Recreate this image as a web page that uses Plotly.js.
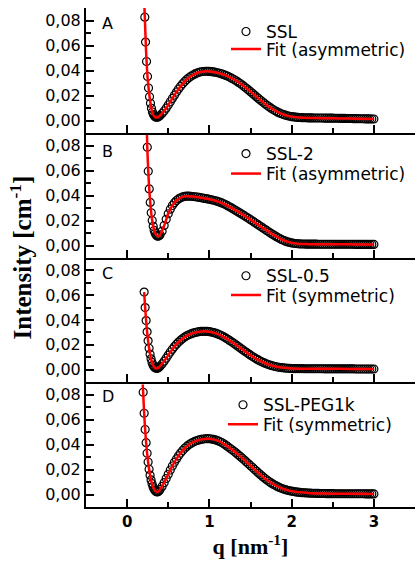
<!DOCTYPE html>
<html><head><meta charset="utf-8">
<script src="https://cdn.plot.ly/plotly-3.0.1.min.js"></script>
<style>html,body{margin:0;padding:0;background:#fff}#chart{width:416px;height:563px}</style>
</head><body><div id="chart"></div>
<script>
// Shared q grid (nm^-1) for the part of each curve after the first minimum
const qTail = [0.400,0.425,0.450,0.475,0.500,0.525,0.550,0.575,0.600,0.625,0.650,0.675,0.700,0.725,0.750,0.775,0.800,0.825,0.850,0.875,0.900,0.925,0.950,0.975,1.000,
1.025,1.050,1.075,1.100,1.125,1.150,1.175,1.200,1.225,1.250,1.275,1.300,1.325,1.350,1.375,1.400,1.425,1.450,1.475,1.500,
1.525,1.550,1.575,1.600,1.625,1.650,1.675,1.700,1.725,1.750,1.775,1.800,1.825,1.850,1.875,1.900,1.925,1.950,1.975,2.000,
2.025,2.050,2.075,2.100,2.125,2.150,2.175,2.200,2.225,2.250,2.275,2.300,2.325,2.350,2.375,2.400,2.425,2.450,2.475,2.500,
2.525,2.550,2.575,2.600,2.625,2.650,2.675,2.700,2.725,2.750,2.775,2.800,2.825,2.850,2.875,2.900,2.925,2.950,2.975,3.000];

// A: SSL
const qHeadA = [0.215,0.224,0.236,0.248,0.260,0.272,0.284,0.296,0.308,0.320,0.332,0.344,0.356,0.368,0.380,0.392];
const iHeadA = [0.0827,0.0627,0.0472,0.0352,0.0260,0.0190,0.0138,0.0098,0.0068,0.0048,0.0036,0.0029,0.0026,0.0027,0.0031,0.0036];
const iTailA = [0.0040,0.0056,0.0076,0.0099,0.0124,0.0150,0.0177,0.0203,0.0228,0.0252,0.0274,0.0294,0.0312,0.0328,0.0342,0.0354,0.0364,0.0373,0.0380,0.0386,0.0390,0.0392,0.0394,0.0394,0.0393,
0.0391,0.0389,0.0386,0.0382,0.0378,0.0373,0.0367,0.0361,0.0354,0.0346,0.0337,0.0328,0.0318,0.0307,0.0296,0.0284,0.0271,0.0258,0.0245,0.0231,
0.0217,0.0203,0.0189,0.0175,0.0161,0.0148,0.0135,0.0122,0.0110,0.0099,0.0088,0.0078,0.0069,0.0061,0.0054,0.0048,0.0043,0.0038,0.0034,0.0031,
0.0029,0.0027,0.0025,0.0024,0.0023,0.0022,0.0022,0.0021,0.0021,0.0021,0.0020,0.0020,0.0020,0.0020,0.0020,0.0019,0.0019,0.0019,0.0019,0.0019,
0.0018,0.0018,0.0018,0.0017,0.0017,0.0017,0.0016,0.0016,0.0016,0.0015,0.0015,0.0015,0.0014,0.0014,0.0014,0.0013,0.0013,0.0013,0.0012,0.0012];
const qFitA = [0.200,0.215,0.230,0.250,0.275,0.300,0.325,0.350,0.375,0.400,0.450,0.500,0.600,0.700,0.800,0.900,1.000,1.100,1.200,1.300,1.400,1.500,1.600,1.700,1.800,1.900,2.000,2.100,2.200,2.400,2.600,2.800,3.000];
const iFitA = [0.1100,0.0830,0.0560,0.0335,0.0180,0.0080,0.0037,0.0024,0.0027,0.0040,0.0076,0.0124,0.0228,0.0312,0.0364,0.0390,0.0393,0.0382,0.0361,0.0328,0.0284,0.0231,0.0175,0.0122,0.0078,0.0048,0.0031,0.0024,0.0021,0.0019,0.0017,0.0015,0.0012];

// B: SSL-2
const qHeadB = [0.245,0.257,0.269,0.281,0.293,0.305,0.317,0.329,0.341,0.353,0.365,0.377,0.389];
const iHeadB = [0.0786,0.0594,0.0453,0.0345,0.0262,0.0200,0.0154,0.0121,0.0098,0.0084,0.0077,0.0075,0.0078];
const iTailB = [0.0086,0.0115,0.0160,0.0210,0.0254,0.0291,0.0320,0.0343,0.0360,0.0373,0.0382,0.0389,0.0393,0.0395,0.0395,0.0394,0.0392,0.0390,0.0388,0.0385,0.0382,0.0379,0.0376,0.0373,0.0370,
0.0366,0.0362,0.0358,0.0353,0.0347,0.0341,0.0334,0.0326,0.0317,0.0308,0.0299,0.0289,0.0279,0.0269,0.0259,0.0249,0.0239,0.0228,0.0218,0.0207,
0.0196,0.0185,0.0174,0.0163,0.0152,0.0141,0.0130,0.0119,0.0108,0.0097,0.0087,0.0077,0.0067,0.0058,0.0049,0.0042,0.0035,0.0029,0.0025,0.0021,
0.0018,0.0016,0.0014,0.0013,0.0012,0.0012,0.0011,0.0011,0.0011,0.0011,0.0011,0.0011,0.0010,0.0010,0.0010,0.0010,0.0010,0.0010,0.0010,0.0010,
0.0010,0.0010,0.0010,0.0010,0.0010,0.0010,0.0010,0.0010,0.0010,0.0010,0.0009,0.0009,0.0009,0.0009,0.0009,0.0009,0.0009,0.0009,0.0009,0.0009];
const qFitB = [0.235,0.245,0.257,0.269,0.281,0.293,0.305,0.320,0.340,0.360,0.380,0.400,0.450,0.500,0.550,0.600,0.650,0.700,0.750,0.800,0.900,1.000,1.100,1.200,1.300,1.400,1.500,1.600,1.700,1.800,1.900,2.000,2.100,2.200,2.400,2.600,2.800,3.000];
const iFitB = [0.1050,0.0786,0.0594,0.0453,0.0345,0.0262,0.0200,0.0145,0.0100,0.0080,0.0074,0.0084,0.0158,0.0254,0.0320,0.0360,0.0382,0.0393,0.0395,0.0392,0.0382,0.0370,0.0353,0.0326,0.0289,0.0249,0.0207,0.0163,0.0119,0.0077,0.0042,0.0021,0.0013,0.0011,0.0010,0.0010,0.0009,0.0009];

// C: SSL-0.5
const qHeadC = [0.207,0.219,0.231,0.243,0.255,0.267,0.279,0.291,0.303,0.315,0.327,0.339,0.351,0.363,0.375,0.387];
const iHeadC = [0.0625,0.0500,0.0395,0.0305,0.0232,0.0172,0.0124,0.0087,0.0058,0.0037,0.0023,0.0015,0.0011,0.0010,0.0012,0.0018];
const iTailC = [0.0028,0.0046,0.0068,0.0092,0.0117,0.0142,0.0165,0.0186,0.0205,0.0222,0.0237,0.0250,0.0262,0.0272,0.0281,0.0288,0.0294,0.0299,0.0303,0.0306,0.0308,0.0309,0.0309,0.0308,0.0306,
0.0303,0.0299,0.0294,0.0288,0.0281,0.0273,0.0264,0.0254,0.0244,0.0233,0.0222,0.0211,0.0199,0.0187,0.0175,0.0163,0.0151,0.0139,0.0127,0.0116,
0.0105,0.0095,0.0085,0.0076,0.0067,0.0059,0.0052,0.0045,0.0039,0.0034,0.0029,0.0025,0.0021,0.0018,0.0016,0.0014,0.0012,0.0011,0.0010,0.0009,
0.0008,0.0008,0.0008,0.0008,0.0008,0.0007,0.0007,0.0007,0.0007,0.0007,0.0007,0.0007,0.0007,0.0007,0.0007,0.0006,0.0006,0.0006,0.0006,0.0006,
0.0006,0.0006,0.0006,0.0006,0.0006,0.0006,0.0006,0.0006,0.0006,0.0006,0.0005,0.0005,0.0005,0.0005,0.0005,0.0005,0.0005,0.0005,0.0005,0.0005];
const qFitC = [0.207,0.219,0.231,0.243,0.255,0.270,0.285,0.300,0.320,0.340,0.360,0.380,0.400,0.450,0.500,0.550,0.600,0.700,0.800,0.900,1.000,1.100,1.200,1.300,1.400,1.500,1.600,1.700,1.800,1.900,2.000,2.200,2.400,2.600,2.800,3.000];
const iFitC = [0.0625,0.0500,0.0395,0.0305,0.0232,0.0160,0.0105,0.0065,0.0030,0.0014,0.0009,0.0013,0.0028,0.0068,0.0117,0.0165,0.0205,0.0262,0.0294,0.0308,0.0306,0.0288,0.0254,0.0211,0.0163,0.0116,0.0076,0.0045,0.0025,0.0014,0.0009,0.0007,0.0006,0.0006,0.0005,0.0005];

// D: SSL-PEG1k
const qHeadD = [0.195,0.207,0.219,0.231,0.243,0.255,0.267,0.279,0.291,0.303,0.315,0.327,0.339,0.351,0.363,0.375,0.387];
const iHeadD = [0.0818,0.0650,0.0520,0.0415,0.0330,0.0260,0.0202,0.0155,0.0117,0.0087,0.0063,0.0045,0.0032,0.0024,0.0021,0.0022,0.0028];
const iTailD = [0.0040,0.0065,0.0095,0.0128,0.0162,0.0196,0.0228,0.0258,0.0285,0.0310,0.0332,0.0352,0.0370,0.0385,0.0398,0.0409,0.0418,0.0426,0.0432,0.0437,0.0441,0.0444,0.0446,0.0447,0.0446,
0.0444,0.0441,0.0437,0.0431,0.0424,0.0416,0.0406,0.0395,0.0383,0.0370,0.0358,0.0346,0.0333,0.0319,0.0305,0.0291,0.0276,0.0261,0.0246,0.0231,
0.0216,0.0201,0.0186,0.0171,0.0157,0.0143,0.0129,0.0116,0.0104,0.0093,0.0083,0.0074,0.0065,0.0057,0.0050,0.0044,0.0039,0.0034,0.0030,0.0027,
0.0024,0.0021,0.0019,0.0017,0.0015,0.0014,0.0013,0.0012,0.0011,0.0010,0.0010,0.0009,0.0009,0.0008,0.0008,0.0008,0.0007,0.0007,0.0007,0.0007,
0.0006,0.0006,0.0006,0.0006,0.0006,0.0006,0.0006,0.0006,0.0006,0.0006,0.0006,0.0006,0.0006,0.0006,0.0006,0.0005,0.0005,0.0005,0.0005,0.0005];
const qFitD = [0.190,0.195,0.207,0.219,0.231,0.243,0.255,0.270,0.285,0.300,0.320,0.340,0.360,0.380,0.400,0.450,0.500,0.550,0.600,0.700,0.800,0.900,1.000,1.100,1.200,1.300,1.400,1.500,1.600,1.700,1.800,1.900,2.000,2.200,2.400,2.600,2.800,3.000];
const iFitD = [0.0880,0.0818,0.0650,0.0520,0.0415,0.0330,0.0260,0.0190,0.0135,0.0093,0.0054,0.0030,0.0021,0.0024,0.0040,0.0095,0.0162,0.0228,0.0285,0.0370,0.0418,0.0441,0.0446,0.0431,0.0395,0.0346,0.0291,0.0231,0.0171,0.0116,0.0074,0.0044,0.0027,0.0013,0.0008,0.0006,0.0006,0.0005];

const sampleNames = ['SSL','SSL-2','SSL-0.5','SSL-PEG1k'];
const fitNames = ['Fit (asymmetric)','Fit (asymmetric)','Fit (symmetric)','Fit (symmetric)'];
const panelLetters = ['A','B','C','D'];
const yTickVals = [0, 0.02, 0.04, 0.06, 0.08];
const xTickVals = [0, 1, 2, 3];

const FONT = 'DejaVu Sans, sans-serif';
const SERIF = 'Liberation Serif, Times New Roman, serif';

const series = [
  {q: qHeadA.concat(qTail), i: iHeadA.concat(iTailA), qf: qFitA, f: iFitA},
  {q: qHeadB.concat(qTail), i: iHeadB.concat(iTailB), qf: qFitB, f: iFitB},
  {q: qHeadC.concat(qTail), i: iHeadC.concat(iTailC), qf: qFitC, f: iFitC},
  {q: qHeadD.concat(qTail), i: iHeadD.concat(iTailD), qf: qFitD, f: iFitD}
];
// panel A top ... panel D bottom
const axPairs = [['x4','y4'],['x3','y3'],['x2','y2'],['x','y']];
const legendPos = [[0.4255,0.952,0.917],[0.4255,0.7074,0.6673],[0.4255,0.4625,0.4238],[0.4164,0.2040,0.1647]];

const traces = [];
const layout = {
  width:416, height:563,
  margin:{l:86, r:1, t:8, b:56, pad:0},
  paper_bgcolor:'#fff', plot_bgcolor:'rgba(0,0,0,0)',
  separators:', ',
  font:{family:FONT, color:'#000', size:16},
  showlegend:true,
  annotations:[]
};

series.forEach((s, k) => {
  const lgM = k === 0 ? 'legend' : 'legend' + (2*k + 1);
  const lgF = 'legend' + (2*k + 2);
  traces.push({
    x: s.q, y: s.i, xaxis: axPairs[k][0], yaxis: axPairs[k][1],
    type:'scatter', mode:'markers', name: sampleNames[k], legend: lgM,
    marker:{symbol:'circle-open', size:8, color:'#000', line:{width:1.2, color:'#000'}},
    hoverinfo:'skip'
  });
  traces.push({
    x: s.qf, y: s.f, xaxis: axPairs[k][0], yaxis: axPairs[k][1],
    type:'scatter', mode:'lines', name: fitNames[k], legend: lgF,
    line:{color:'#ff0000', width:2.5, shape:'spline', smoothing:0.6},
    hoverinfo:'skip'
  });
  const lgCommon = {xanchor:'left', yanchor:'middle', bgcolor:'rgba(0,0,0,0)', borderwidth:0,
    font:{family:FONT, size:17, color:'#000'}, itemwidth:30, tracegroupgap:0};
  layout[lgM] = Object.assign({x: legendPos[k][0], y: legendPos[k][1]}, lgCommon);
  layout[lgF] = Object.assign({x: legendPos[k][0], y: legendPos[k][2]}, lgCommon);
});

const doms = [[374/499, 1], [249/499, 374/499], [125/499, 249/499], [0, 125/499]];
const letterY = [0.968, 0.712, 0.467, 0.221];
axPairs.forEach((p, k) => {
  const xName = p[0] === 'x' ? 'xaxis' : 'xaxis' + p[0].slice(1);
  const yName = p[1] === 'y' ? 'yaxis' : 'yaxis' + p[1].slice(1);
  const isBottom = p[0] === 'x';
  layout[xName] = {
    domain:[0,1], anchor:p[1], range:[-0.5,3.5],
    tickmode:'array', tickvals:xTickVals, ticktext:xTickVals.map(String),
    ticks:'inside', ticklen:8, tickwidth:2, tickcolor:'#000',
    showticklabels:isBottom,
    tickfont:{family:FONT, size:15, color:'#000', weight:'bold'},
    showline:true, linewidth:2, linecolor:'#000', mirror:false,
    showgrid:false, zeroline:false, fixedrange:true,
    minor:{tickmode:'array', tickvals:[-0.5,0.5,1.5,2.5,3.5], ticks:'inside', ticklen:5, tickwidth:2, tickcolor:'#000', showgrid:false}
  };
  if (!isBottom) layout[xName].matches = 'x';
  if (isBottom) layout[xName].title = {text:'q [nm<sup>-1</sup>]', font:{family:SERIF, size:22, color:'#000', weight:'bold'}, standoff:6};
  layout[yName] = {
    domain:doms[k], anchor:p[0], range:[-0.01,0.09],
    tickmode:'array', tickvals:yTickVals, tickformat:'.2f',
    ticks:'inside', ticklen:8, tickwidth:2, tickcolor:'#000',
    tickfont:{family:FONT, size:16, color:'#000'},
    showline:true, linewidth:2, linecolor:'#000',
    showgrid:false, zeroline:false, fixedrange:true,
    minor:{tickmode:'array', tickvals:[0.01,0.03,0.05,0.07,0.09], ticks:'inside', ticklen:5, tickwidth:2, tickcolor:'#000', showgrid:false}
  };
  layout.annotations.push({text:panelLetters[k], xref:'paper', yref:'paper', x:0.0426, y:letterY[k],
    xanchor:'left', yanchor:'middle', showarrow:false, font:{family:FONT, size:16, color:'#000'}});
});

layout.annotations.push({text:'Intensity [cm<sup>-1</sup>]', xref:'paper', yref:'paper', x:-0.2006, y:0.5,
  xanchor:'center', yanchor:'middle', textangle:-90, showarrow:false,
  font:{family:SERIF, size:25, color:'#000', weight:'bold'}});

Plotly.newPlot('chart', traces, layout, {staticPlot:true, displayModeBar:false});
</script>
</body></html>
